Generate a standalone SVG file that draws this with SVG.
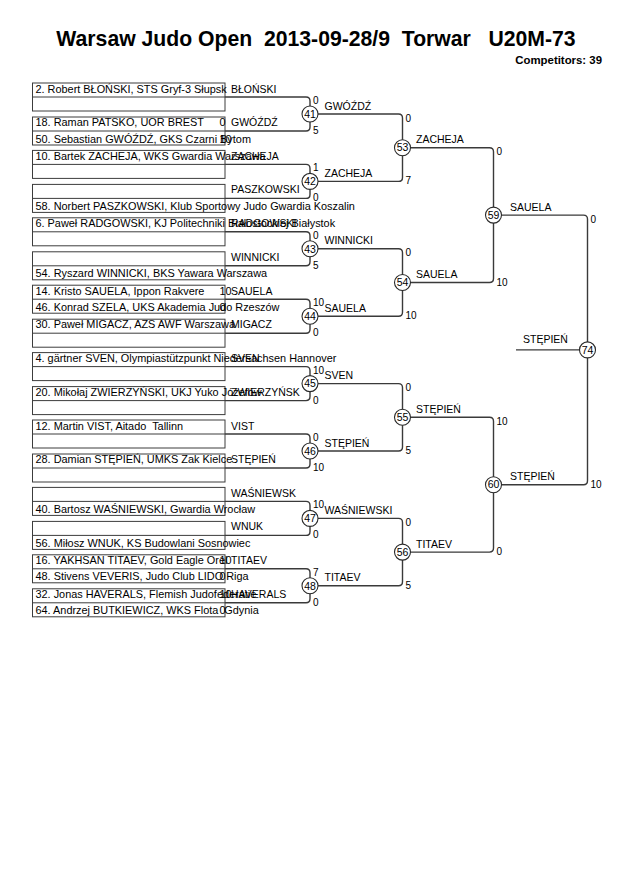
<svg xmlns="http://www.w3.org/2000/svg" width="630" height="891" viewBox="0 0 630 891">
<style>
text{font-family:"Liberation Sans",Arial,sans-serif;fill:#000}
.title{font-size:21.2px;font-weight:bold;white-space:pre}
.comp{font-size:11.4px;font-weight:bold}
.nm{font-size:10.9px;white-space:pre}
.lb{font-size:10.5px}
.sc{font-size:10px}
.num{font-size:10.5px;text-anchor:middle}
.box{fill:#fff;stroke:#3c3c3c;stroke-width:1}
.div{stroke:#3c3c3c;stroke-width:1}
.br{fill:none;stroke:#3a3a3a;stroke-width:1.4}
.cir{fill:#fff;stroke:#2a2a2a;stroke-width:1.1}
</style>
<rect width="630" height="891" fill="#fff"/>
<g id="header">
<text class="title" x="316" y="45.5" text-anchor="middle">Warsaw Judo Open  2013-09-28/9  Torwar   U20M-73</text>
<text class="comp" x="602" y="64" text-anchor="end">Competitors: 39</text>
</g>
<g id="connectors">
<path class="br" d="M225,97 H306 Q310,97 310,101 V127 Q310,131 306,131 H225"/>
<path class="br" d="M225,164.4 H306 Q310,164.4 310,168.4 V194.4 Q310,198.4 306,198.4 H225"/>
<path class="br" d="M225,231.8 H306 Q310,231.8 310,235.8 V261.8 Q310,265.8 306,265.8 H225"/>
<path class="br" d="M225,299.2 H306 Q310,299.2 310,303.2 V329.2 Q310,333.2 306,333.2 H225"/>
<path class="br" d="M225,366.6 H306 Q310,366.6 310,370.6 V396.6 Q310,400.6 306,400.6 H225"/>
<path class="br" d="M225,434 H306 Q310,434 310,438 V464 Q310,468 306,468 H225"/>
<path class="br" d="M225,501.4 H306 Q310,501.4 310,505.4 V531.4 Q310,535.4 306,535.4 H225"/>
<path class="br" d="M225,568.8 H306 Q310,568.8 310,572.8 V598.8 Q310,602.8 306,602.8 H225"/>
<path class="br" d="M318,114 H398.5 Q402.5,114 402.5,118 V177.4 Q402.5,181.4 398.5,181.4 H318"/>
<path class="br" d="M318,248.8 H398.5 Q402.5,248.8 402.5,252.8 V312.2 Q402.5,316.2 398.5,316.2 H318"/>
<path class="br" d="M318,383.6 H398.5 Q402.5,383.6 402.5,387.6 V447 Q402.5,451 398.5,451 H318"/>
<path class="br" d="M318,518.4 H398.5 Q402.5,518.4 402.5,522.4 V581.8 Q402.5,585.8 398.5,585.8 H318"/>
<path class="br" d="M410.5,147.7 H489.5 Q493.5,147.7 493.5,151.7 V278.5 Q493.5,282.5 489.5,282.5 H410.5"/>
<path class="br" d="M410.5,417.3 H489.5 Q493.5,417.3 493.5,421.3 V548.1 Q493.5,552.1 489.5,552.1 H410.5"/>
<path class="br" d="M501.5,215.1 H583.5 Q587.5,215.1 587.5,219.1 V480.7 Q587.5,484.7 583.5,484.7 H501.5"/>
<path class="br" d="M516,349.9 H579.5" stroke="#666"/>
</g>
<g id="entries">
<g id="block-41">
<rect class="box" x="32.5" y="83" width="192.5" height="28"/><line class="div" x1="32.5" y1="97" x2="225" y2="97"/>
<rect class="box" x="32.5" y="117" width="192.5" height="28"/><line class="div" x1="32.5" y1="131" x2="225" y2="131"/>
<text class="nm" x="35.5" y="92.5">2. Robert BŁOŃSKI, STS Gryf-3 Słupsk</text>
<text class="nm" x="35.5" y="126">18. Raman PATSKO, UOR BREST</text>
<text class="nm" x="35.5" y="142.5">50. Sebastian GWÓŹDŹ, GKS Czarni Bytom</text>
<text class="nm" x="219.5" y="126">0</text><text class="nm" x="219.5" y="142.5">10</text>
<text class="lb" x="231" y="92.5">BŁOŃSKI</text><text class="lb" x="231" y="126">GWÓŹDŹ</text>
</g>
<g id="block-42">
<rect class="box" x="32.5" y="150.4" width="192.5" height="28"/><line class="div" x1="32.5" y1="164.4" x2="225" y2="164.4"/>
<rect class="box" x="32.5" y="184.4" width="192.5" height="28"/><line class="div" x1="32.5" y1="198.4" x2="225" y2="198.4"/>
<text class="nm" x="35.5" y="159.9">10. Bartek ZACHEJA, WKS Gwardia Warszawa</text>
<text class="nm" x="35.5" y="209.9">58. Norbert PASZKOWSKI, Klub Sportowy Judo Gwardia Koszalin</text>
<text class="lb" x="231" y="159.9">ZACHEJA</text><text class="lb" x="231" y="193.4">PASZKOWSKI</text>
</g>
<g id="block-43">
<rect class="box" x="32.5" y="217.8" width="192.5" height="28"/><line class="div" x1="32.5" y1="231.8" x2="225" y2="231.8"/>
<rect class="box" x="32.5" y="251.8" width="192.5" height="28"/><line class="div" x1="32.5" y1="265.8" x2="225" y2="265.8"/>
<text class="nm" x="35.5" y="227.3">6. Paweł RADGOWSKI, KJ Politechniki Białostockiej Białystok</text>
<text class="nm" x="35.5" y="277.3">54. Ryszard WINNICKI, BKS Yawara Warszawa</text>
<text class="lb" x="231" y="227.3">RADGOWSKI</text><text class="lb" x="231" y="260.8">WINNICKI</text>
</g>
<g id="block-44">
<rect class="box" x="32.5" y="285.2" width="192.5" height="28"/><line class="div" x1="32.5" y1="299.2" x2="225" y2="299.2"/>
<rect class="box" x="32.5" y="319.2" width="192.5" height="28"/><line class="div" x1="32.5" y1="333.2" x2="225" y2="333.2"/>
<text class="nm" x="35.5" y="294.7">14. Kristo SAUELA, Ippon Rakvere</text>
<text class="nm" x="35.5" y="310.7">46. Konrad SZELA, UKS Akademia Judo Rzeszów</text>
<text class="nm" x="35.5" y="328.2">30. Paweł MIGACZ, AZS AWF Warszawa</text>
<text class="nm" x="219.5" y="294.7">10</text><text class="nm" x="219.5" y="310.7">0</text>
<text class="lb" x="231" y="294.7">SAUELA</text><text class="lb" x="231" y="328.2">MIGACZ</text>
</g>
<g id="block-45">
<rect class="box" x="32.5" y="352.6" width="192.5" height="28"/><line class="div" x1="32.5" y1="366.6" x2="225" y2="366.6"/>
<rect class="box" x="32.5" y="386.6" width="192.5" height="28"/><line class="div" x1="32.5" y1="400.6" x2="225" y2="400.6"/>
<text class="nm" x="35.5" y="362.1">4. gärtner SVEN, Olympiastützpunkt Niedersachsen Hannover</text>
<text class="nm" x="35.5" y="395.6">20. Mikołaj ZWIERZYŃSKI, UKJ Yuko Józefów</text>
<text class="lb" x="231" y="362.1">SVEN</text><text class="lb" x="231" y="395.6">ZWIERZYŃSK</text>
</g>
<g id="block-46">
<rect class="box" x="32.5" y="420" width="192.5" height="28"/><line class="div" x1="32.5" y1="434" x2="225" y2="434"/>
<rect class="box" x="32.5" y="454" width="192.5" height="28"/><line class="div" x1="32.5" y1="468" x2="225" y2="468"/>
<text class="nm" x="35.5" y="429.5">12. Martin VIST, Aitado  Tallinn</text>
<text class="nm" x="35.5" y="463">28. Damian STĘPIEŃ, UMKS Zak Kielce</text>
<text class="lb" x="231" y="429.5">VIST</text><text class="lb" x="231" y="463">STĘPIEŃ</text>
</g>
<g id="block-47">
<rect class="box" x="32.5" y="487.4" width="192.5" height="28"/><line class="div" x1="32.5" y1="501.4" x2="225" y2="501.4"/>
<rect class="box" x="32.5" y="521.4" width="192.5" height="28"/><line class="div" x1="32.5" y1="535.4" x2="225" y2="535.4"/>
<text class="nm" x="35.5" y="512.9">40. Bartosz WAŚNIEWSKI, Gwardia Wrocław</text>
<text class="nm" x="35.5" y="546.9">56. Miłosz WNUK, KS Budowlani Sosnowiec</text>
<text class="lb" x="231" y="496.9">WAŚNIEWSK</text><text class="lb" x="231" y="530.4">WNUK</text>
</g>
<g id="block-48">
<rect class="box" x="32.5" y="554.8" width="192.5" height="28"/><line class="div" x1="32.5" y1="568.8" x2="225" y2="568.8"/>
<rect class="box" x="32.5" y="588.8" width="192.5" height="28"/><line class="div" x1="32.5" y1="602.8" x2="225" y2="602.8"/>
<text class="nm" x="35.5" y="564.3">16. YAKHSAN TITAEV, Gold Eagle Orel</text>
<text class="nm" x="35.5" y="580.3">48. Stivens VEVERIS, Judo Club LIDO Riga</text>
<text class="nm" x="35.5" y="597.8">32. Jonas HAVERALS, Flemish Judofederatie</text>
<text class="nm" x="35.5" y="614.3">64. Andrzej BUTKIEWICZ, WKS Flota  Gdynia</text>
<text class="nm" x="219.5" y="564.3">10</text><text class="nm" x="219.5" y="580.3">0</text>
<text class="nm" x="219.5" y="597.8">10</text><text class="nm" x="219.5" y="614.3">0</text>
<text class="lb" x="231" y="564.3">TITAEV</text><text class="lb" x="231" y="597.8">HAVERALS</text>
</g>
</g>
<g id="matches">
<g id="m41"><circle class="cir" cx="310" cy="114" r="8"/><text class="num" x="310" y="117.7">41</text><text class="sc" x="313" y="104">0</text><text class="sc" x="313" y="134">5</text><text class="lb" x="324.5" y="109.5">GWÓŹDŹ</text></g>
<g id="m42"><circle class="cir" cx="310" cy="181.4" r="8"/><text class="num" x="310" y="185.1">42</text><text class="sc" x="313" y="171.4">1</text><text class="sc" x="313" y="201.4">0</text><text class="lb" x="324.5" y="176.9">ZACHEJA</text></g>
<g id="m43"><circle class="cir" cx="310" cy="248.8" r="8"/><text class="num" x="310" y="252.5">43</text><text class="sc" x="313" y="238.8">0</text><text class="sc" x="313" y="268.8">5</text><text class="lb" x="324.5" y="244.3">WINNICKI</text></g>
<g id="m44"><circle class="cir" cx="310" cy="316.2" r="8"/><text class="num" x="310" y="319.9">44</text><text class="sc" x="313" y="306.2">10</text><text class="sc" x="313" y="336.2">0</text><text class="lb" x="324.5" y="311.7">SAUELA</text></g>
<g id="m45"><circle class="cir" cx="310" cy="383.6" r="8"/><text class="num" x="310" y="387.3">45</text><text class="sc" x="313" y="373.6">10</text><text class="sc" x="313" y="403.6">0</text><text class="lb" x="324.5" y="379.1">SVEN</text></g>
<g id="m46"><circle class="cir" cx="310" cy="451" r="8"/><text class="num" x="310" y="454.7">46</text><text class="sc" x="313" y="441">0</text><text class="sc" x="313" y="471">10</text><text class="lb" x="324.5" y="446.5">STĘPIEŃ</text></g>
<g id="m47"><circle class="cir" cx="310" cy="518.4" r="8"/><text class="num" x="310" y="522.1">47</text><text class="sc" x="313" y="508.4">10</text><text class="sc" x="313" y="538.4">0</text><text class="lb" x="324.5" y="513.9">WAŚNIEWSKI</text></g>
<g id="m48"><circle class="cir" cx="310" cy="585.8" r="8"/><text class="num" x="310" y="589.5">48</text><text class="sc" x="313" y="575.8">7</text><text class="sc" x="313" y="605.8">0</text><text class="lb" x="324.5" y="581.3">TITAEV</text></g>
<g id="m53"><circle class="cir" cx="402.5" cy="147.7" r="8"/><text class="num" x="402.5" y="151.4">53</text><text class="sc" x="405.5" y="121.5">0</text><text class="sc" x="405.5" y="184.4">7</text><text class="lb" x="416" y="143.2">ZACHEJA</text></g>
<g id="m54"><circle class="cir" cx="402.5" cy="282.5" r="8"/><text class="num" x="402.5" y="286.2">54</text><text class="sc" x="405.5" y="256.3">0</text><text class="sc" x="405.5" y="319.2">10</text><text class="lb" x="416" y="278">SAUELA</text></g>
<g id="m55"><circle class="cir" cx="402.5" cy="417.3" r="8"/><text class="num" x="402.5" y="421">55</text><text class="sc" x="405.5" y="391.1">0</text><text class="sc" x="405.5" y="454">5</text><text class="lb" x="416" y="412.8">STĘPIEŃ</text></g>
<g id="m56"><circle class="cir" cx="402.5" cy="552.1" r="8"/><text class="num" x="402.5" y="555.8">56</text><text class="sc" x="405.5" y="525.9">0</text><text class="sc" x="405.5" y="588.8">5</text><text class="lb" x="416" y="547.6">TITAEV</text></g>
<g id="m59"><circle class="cir" cx="493.5" cy="215.1" r="8"/><text class="num" x="493.5" y="218.8">59</text><text class="sc" x="496.5" y="155.2">0</text><text class="sc" x="496.5" y="285.5">10</text><text class="lb" x="510" y="210.6">SAUELA</text></g>
<g id="m60"><circle class="cir" cx="493.5" cy="484.7" r="8"/><text class="num" x="493.5" y="488.4">60</text><text class="sc" x="496.5" y="424.8">10</text><text class="sc" x="496.5" y="555.1">0</text><text class="lb" x="510" y="480.2">STĘPIEŃ</text></g>
<g id="m74"><circle class="cir" cx="587.5" cy="349.9" r="8"/><text class="num" x="587.5" y="353.6">74</text><text class="sc" x="590.5" y="222.6">0</text><text class="sc" x="590.5" y="487.7">10</text><text class="lb" x="523" y="343.3">STĘPIEŃ</text></g>
</g>
</svg>
